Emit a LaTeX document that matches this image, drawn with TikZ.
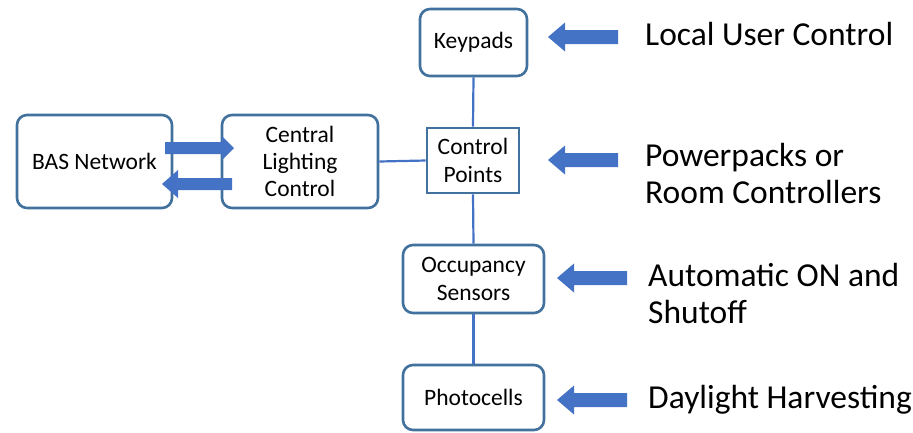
\documentclass[tikz,border=0pt]{standalone}
\usepackage{fontspec}
\setmainfont{Carlito}
\definecolor{boxline}{HTML}{41719C}
\definecolor{linkblue}{HTML}{4472C4}
\definecolor{arrowblue}{HTML}{4472C4}
\begin{document}
\begin{tikzpicture}[x=1pt,y=-1pt,
  box/.style={draw=boxline,line width=2.6pt,rounded corners=10pt,fill=white,
    align=center,inner sep=0pt,font=\fontsize{23.5}{28}\selectfont},
  sqbox/.style={box,rounded corners=0pt},
  link/.style={draw=linkblue,line width=2.2pt},
  note/.style={anchor=base west,inner sep=0pt,align=left,
    font=\fontsize{33.5}{37}\selectfont},
  blockarrow/.style={fill=arrowblue},
  % left-pointing block arrow, tip at the pic origin
  leftarrow/.pic={\fill[blockarrow] (0,0) -- (17,-14.5) -- (17,-7) -- (70,-7) -- (70,7) -- (17,7) -- (17,14.5) -- cycle;}
]
\useasboundingbox (0,0) rectangle (913,432);

% boxes
\node[box,minimum width=107pt,minimum height=67pt] (key) at (473.5,42.5) {Keypads};
\node[sqbox,minimum width=92pt,minimum height=65pt] (cp) at (473,160.5) {Control\\Points};
\node[box,minimum width=141pt,minimum height=68pt] (occ) at (473.5,279) {Occupancy\\Sensors};
\node[box,minimum width=141pt,minimum height=65pt] (photo) at (473.5,397.5) {Photocells};
\node[box,minimum width=155pt,minimum height=93pt] (bas) at (94.5,161.5) {BAS Network};
\node[box,minimum width=156pt,minimum height=93pt,font=\fontsize{23.5}{27}\selectfont] (clc) at (300,161.5) {Central\\Lighting\\Control};

% connecting lines
\draw[link] (key.south) -- (cp.north);
\draw[link] (cp.south) -- (occ.north);
\draw[link] (occ.south) -- (photo.north);
\draw[link] (clc.east) -- (cp.west);

% data exchange between BAS and central control
\fill[blockarrow] (165,142) -- (222,142) -- (222,136) -- (234,148) -- (222,160) -- (222,154) -- (165,154) -- cycle;
\fill[blockarrow] (232,178) -- (178,178) -- (178,170) -- (162,184) -- (178,198) -- (178,190) -- (232,190) -- cycle;

% input arrows
\pic at (548,37) {leftarrow};
\pic at (548,160) {leftarrow};
\pic at (557,278) {leftarrow};
\pic at (557,400) {leftarrow};

% descriptions (multi-line nodes are placed by their last baseline)
\node[note] (t1) at (645,45) {Local User Control};
\node[note] (t2) at (645,203) {Powerpacks or\\Room Controllers};
\node[note] (t3) at (648,323) {Automatic ON and\\Shutoff};
\node[note] (t4) at (648,408) {Daylight Harvesting};
\end{tikzpicture}
\end{document}
